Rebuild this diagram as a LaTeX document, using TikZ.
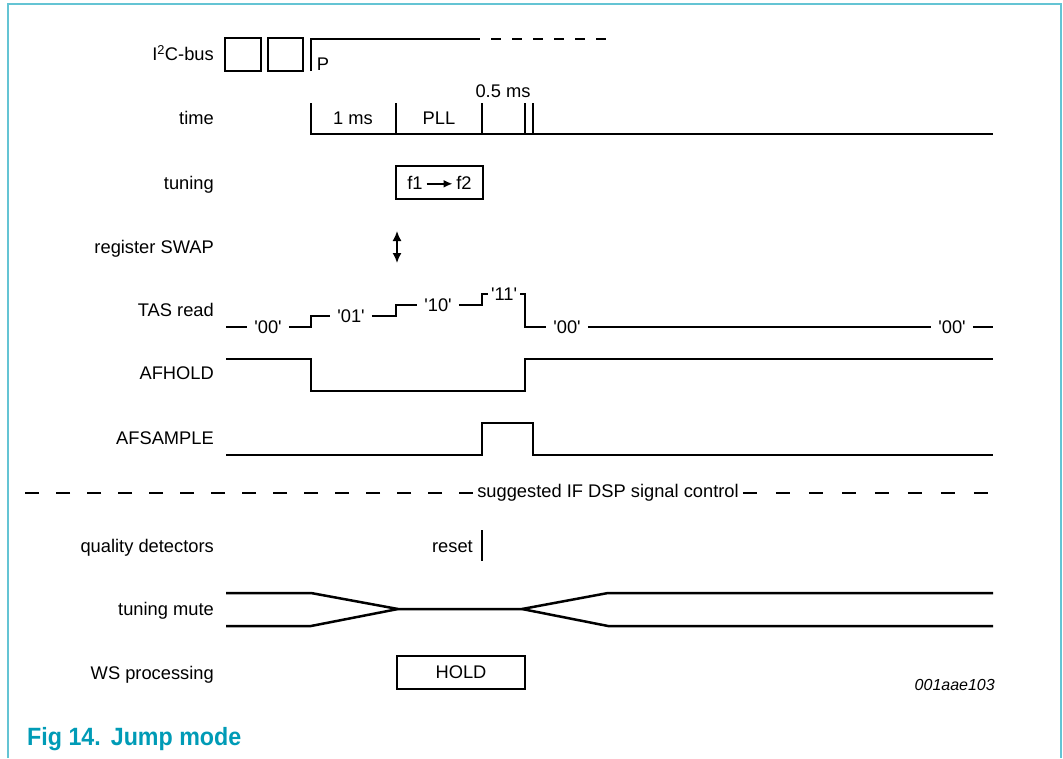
\documentclass[tikz,border=0pt]{standalone}
\usepackage{fontspec}
\setmainfont{Liberation Sans}
\newfontfamily\captionfont{Liberation Sans}[FakeStretch=0.93]
\usepackage{tikz}
\usetikzlibrary{arrows.meta, positioning}
\definecolor{framecyan}{RGB}{100,196,212}
\definecolor{captioncyan}{RGB}{0,155,182}
\newcommand{\bits}[1]{\textquotesingle#1\textquotesingle}

\begin{document}
\begin{tikzpicture}[
    x=1pt, y=-1pt,
    font=\fontsize{18.3}{21}\selectfont,
    sig/.style={anchor=east, inner sep=0pt, text height=13pt, text depth=0pt},
    val/.style={inner xsep=7pt, inner ysep=0pt, text height=13pt, text depth=0pt},
    wave/.style={line width=2.5pt, line join=miter},
    box/.style={rectangle, draw, line width=2.5pt, inner sep=0pt},
    frame/.style={line width=2pt, color=framecyan},
    dashline/.style={line width=1.7pt, dash pattern=on 14pt off 17pt},
    swaparrow/.style={{Latex[length=10pt, width=9pt]}-{Latex[length=10pt, width=9pt]}, line width=1.6pt}
]
\useasboundingbox (0,0) rectangle (1063,758);
\draw[frame] (8,758) -- (8,4) -- (1061,4) -- (1061,758);

\node[sig] (li2c) at (214,54) {I\textsuperscript{2}C-bus};
\node[sig] (ltime) at (214,118) {time};
\node[sig] (ltuning) at (214,183) {tuning};
\node[sig] (lswap) at (214,247) {register SWAP};
\node[sig] (ltas) at (214,310) {TAS read};
\node[sig] (lafhold) at (214,373) {AFHOLD};
\node[sig] (lafsample) at (214,438) {AFSAMPLE};
\node[sig] (lquality) at (214,546) {quality detectors};
\node[sig] (lmute) at (214,609) {tuning mute};
\node[sig] (lws) at (214,673) {WS processing};

\draw[wave] (225,38) rectangle (261,71);
\draw[wave] (268,38) rectangle (303,71);
\draw[wave] (311,71) -- (311,39) -- (480,39);
\draw[wave, dash pattern=on 10pt off 11pt, dash phase=10pt] (480,39) -- (610,39);
\node[sig, anchor=center] (pstop) at (323,64) {P};

\draw[wave] (311,103) -- (311,134) -- (993,134);
\foreach \t in {396,482,525,533}
    \draw[wave] (\t,103) -- (\t,134);
\node[sig, anchor=center] (onems) at (353,118) {1 ms};
\node[sig, anchor=center] (pll) at (439,118) {PLL};
\node[sig, anchor=center] (halfms) at (503,91) {0.5 ms};

\node[box, minimum width=87pt, minimum height=33pt] (tunebox) at (439.5,182.5)
    {f1\,\tikz[baseline=-0.55ex]\draw[-{Latex[length=9pt, width=8pt]}, line width=1.6pt] (0pt,0pt) -- (26pt,0pt);\,f2};

\coordinate (swaptop) at (397,231);
\coordinate (swapbot) at (397,263);
\draw[swaparrow] (swaptop) -- (swapbot);

\node[val] (tas00a) at (268,327) {\bits{00}};
\node[val] (tas01) at (351,316) {\bits{01}};
\node[val] (tas10) at (438,305) {\bits{10}};
\node[val, inner xsep=3pt] (tas11) at (504,294) {\bits{11}};
\node[val] (tas00b) at (567,327) {\bits{00}};
\node[val] (tas00c) at (952,327) {\bits{00}};
\draw[wave] (226,327) -- (tas00a.west);
\draw[wave] (tas00a.east) -- (311,327) |- (tas01.west);
\draw[wave] (tas01.east) -- (396,316) |- (tas10.west);
\draw[wave] (tas10.east) -- (482,305) |- (tas11.west);
\draw[wave] (tas11.east) -| (525,327) -- (tas00b.west);
\draw[wave] (tas00b.east) -- (tas00c.west);
\draw[wave] (tas00c.east) -- (993,327);

\draw[wave] (226,359) -- (311,359) -- (311,391) -- (525,391) -- (525,359) -- (993,359);
\draw[wave] (226,455) -- (482,455) -- (482,423) -- (533,423) -- (533,455) -- (993,455);

\node[inner xsep=4pt] (ifdsp) at (608,493) {suggested IF DSP signal control};
\draw[dashline] (ifdsp.west) -- (20,493);
\draw[dashline, dash pattern=on 14pt off 19pt] (ifdsp.east) -- (990,493);

\coordinate (rsttop) at (482,530);
\coordinate (rstbot) at (482,561);
\draw[wave] (rsttop) -- (rstbot);
\node[sig] (reset) at (473,546) {reset};

\draw[wave] (226,593) -- (311,593) -- (398,609) -- (522,609) -- (608,593) -- (993,593);
\draw[wave] (226,626) -- (311,626) -- (398,609);
\draw[wave] (522,609) -- (608,626) -- (993,626);

\node[box, minimum width=128pt, minimum height=33pt] (hold) at (461,672.5) {HOLD};

\node[anchor=east, inner sep=0pt, font=\fontsize{16}{19}\selectfont\itshape] (figid) at (995,685) {001aae103};
\node[anchor=west, inner sep=0pt, text=captioncyan, font=\captionfont\bfseries\fontsize{25}{30}\selectfont] (caption) at (27,739) {Fig 14.\hspace{10pt}Jump mode};
\end{tikzpicture}
\end{document}
